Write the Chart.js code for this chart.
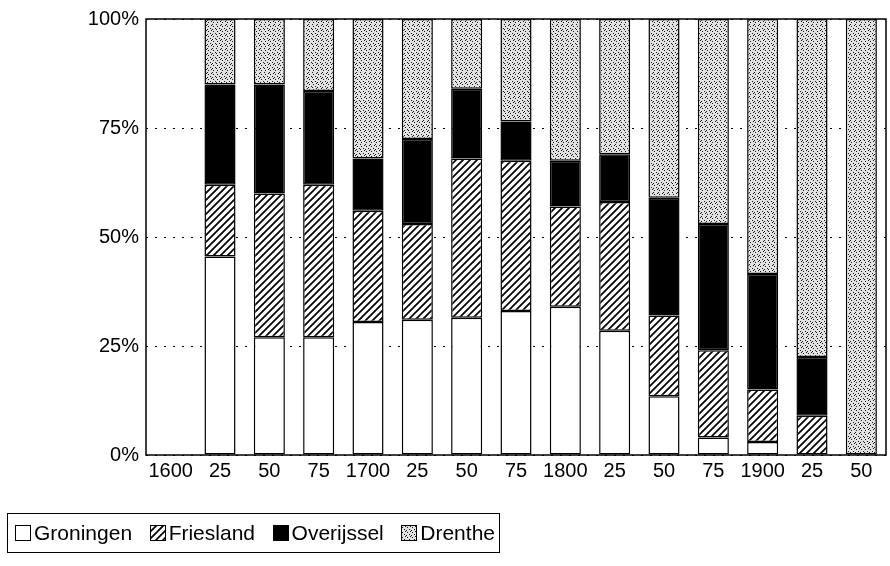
<!DOCTYPE html>
<html>
<head>
<meta charset="utf-8">
<script src="https://cdn.jsdelivr.net/npm/chart.js@4/dist/chart.umd.min.js"></script>
<style>
  body { margin: 0; background: #fff; }
  #wrap { position: relative; width: 890px; height: 566px; }
  #legend {
    position: absolute; left: 7px; top: 513px; width: 480px; height: 38px;
    padding: 0 4px 0 7px;
    border: 1.5px solid #000; display: flex; align-items: center; justify-content: space-between;
    font-family: "Liberation Sans", Arial, sans-serif; font-size: 21px; color: #000;
  }
  #legend span.item { display: flex; align-items: center; }
  #legend canvas { margin-right: 3px; }
</style>
</head>
<body>
<div id="wrap">
  <canvas id="chart" width="890" height="566"></canvas>
  <div id="legend"></div>
</div>
<script>
// jaren (1600 - 1950 per kwart eeuw)
var labels = ["1600", "25", "50", "75", "1700", "25", "50", "75", "1800", "25", "50", "75", "1900", "25", "50"];

// aandelen per provincie, in procenten
var groningen  = [null, 45.5, 27, 27, 30.5, 31, 31.5, 33, 34, 28.5, 13.5, 4, 3, 0, 0];
var friesland  = [null, 16.5, 33, 35, 25.5, 22, 36.5, 34.5, 23, 29.5, 18.5, 20, 12, 9, 0];
var overijssel = [null, 23, 25, 21.5, 12, 19.5, 16, 9, 10.5, 11, 27, 29, 26.5, 13.5, 0];
var drenthe    = [null, 15, 15, 16.5, 32, 27.5, 16, 23.5, 32.5, 31, 41, 47, 58.5, 77.5, 100];

var names = ["Groningen", "Friesland", "Overijssel", "Drenthe"];

// arcering voor Friesland
function hatchPattern(ctx) {
    var c = document.createElement("canvas");
    c.width = 7; c.height = 7;
    var g = c.getContext("2d");
    g.fillStyle = "#fff";
    g.fillRect(0, 0, 7, 7);
    g.strokeStyle = "#000";
    g.lineWidth = 1.7;
    g.beginPath();
    g.moveTo(-1, 8); g.lineTo(8, -1);
    g.moveTo(-4.5, 4.5); g.lineTo(4.5, -4.5);
    g.moveTo(2.5, 11.5); g.lineTo(11.5, 2.5);
    g.stroke();
    return ctx.createPattern(c, "repeat");
}

// gestippeld grijs voor Drenthe
function dotPattern(ctx) {
    var c = document.createElement("canvas");
    c.width = 24; c.height = 24;
    var g = c.getContext("2d");
    g.fillStyle = "#e2e2e2";
    g.fillRect(0, 0, 24, 24);
    g.fillStyle = "#1a1a1a";
    for (var x = 0; x < 24; x++) {
        for (var y = 0; y < 24; y++) {
            if ((x * 7 + y * 13 + (x * y) % 5) % 5 == 0) {
                g.fillRect(x, y, 1, 1);
            }
        }
    }
    return ctx.createPattern(c, "repeat");
}

var canvas = document.getElementById("chart");
var ctx = canvas.getContext("2d");
var fills = ["#fff", hatchPattern(ctx), "#000", dotPattern(ctx)];
var series = [groningen, friesland, overijssel, drenthe];

var datasets = [];
for (var i = 0; i < series.length; i++) {
    datasets.push({
        label: names[i],
        data: series[i],
        backgroundColor: fills[i],
        borderColor: "#000",
        borderWidth: 1.5,
        borderSkipped: false,
        barPercentage: 0.63,
        categoryPercentage: 1
    });
}

// kader om het grafiekgebied
var frame = {
    id: "frame",
    afterDatasetsDraw: function(chart) {
        var a = chart.chartArea;
        var c = chart.ctx;
        c.save();
        c.strokeStyle = "#000";
        c.lineWidth = 1.5;
        c.strokeRect(a.left, a.top, a.right - a.left, a.bottom - a.top);
        c.restore();
    }
};

var font = { family: "'Liberation Sans', Arial, sans-serif", size: 20 };

new Chart(ctx, {
    type: "bar",
    data: { labels: labels, datasets: datasets },
    options: {
        responsive: false,
        animation: false,
        layout: { padding: { top: 17, right: 4, left: 0, bottom: 0 } },
        plugins: { legend: { display: false }, tooltip: { enabled: false } },
        scales: {
            x: {
                stacked: true,
                grid: { display: false, drawTicks: false },
                border: { display: false },
                ticks: { font: font, color: "#000", padding: 4, maxRotation: 0, autoSkip: false },
                afterFit: function(scale) { scale.height = 111; }
            },
            y: {
                stacked: true,
                min: 0,
                max: 100,
                grid: { color: "#000", lineWidth: 1, drawTicks: false },
                border: { display: false, dash: [2, 7] },
                ticks: {
                    stepSize: 25,
                    font: font,
                    color: "#000",
                    padding: 7,
                    callback: function(v) { return v + "%"; }
                },
                afterFit: function(scale) { scale.width = 146; }
            }
        }
    },
    plugins: [frame]
});

// legenda
var legend = document.getElementById("legend");
for (var k = 0; k < names.length; k++) {
    var item = document.createElement("span");
    item.className = "item";
    var sw = document.createElement("canvas");
    sw.width = 16; sw.height = 16;
    var sctx = sw.getContext("2d");
    sctx.fillStyle = k == 1 ? hatchPattern(sctx) : (k == 3 ? dotPattern(sctx) : fills[k]);
    sctx.fillRect(0, 0, 16, 16);
    sctx.strokeStyle = "#000";
    sctx.lineWidth = 1;
    sctx.strokeRect(0.5, 0.5, 15, 15);
    item.appendChild(sw);
    item.appendChild(document.createTextNode(names[k]));
    legend.appendChild(item);
}
</script>
</body>
</html>
